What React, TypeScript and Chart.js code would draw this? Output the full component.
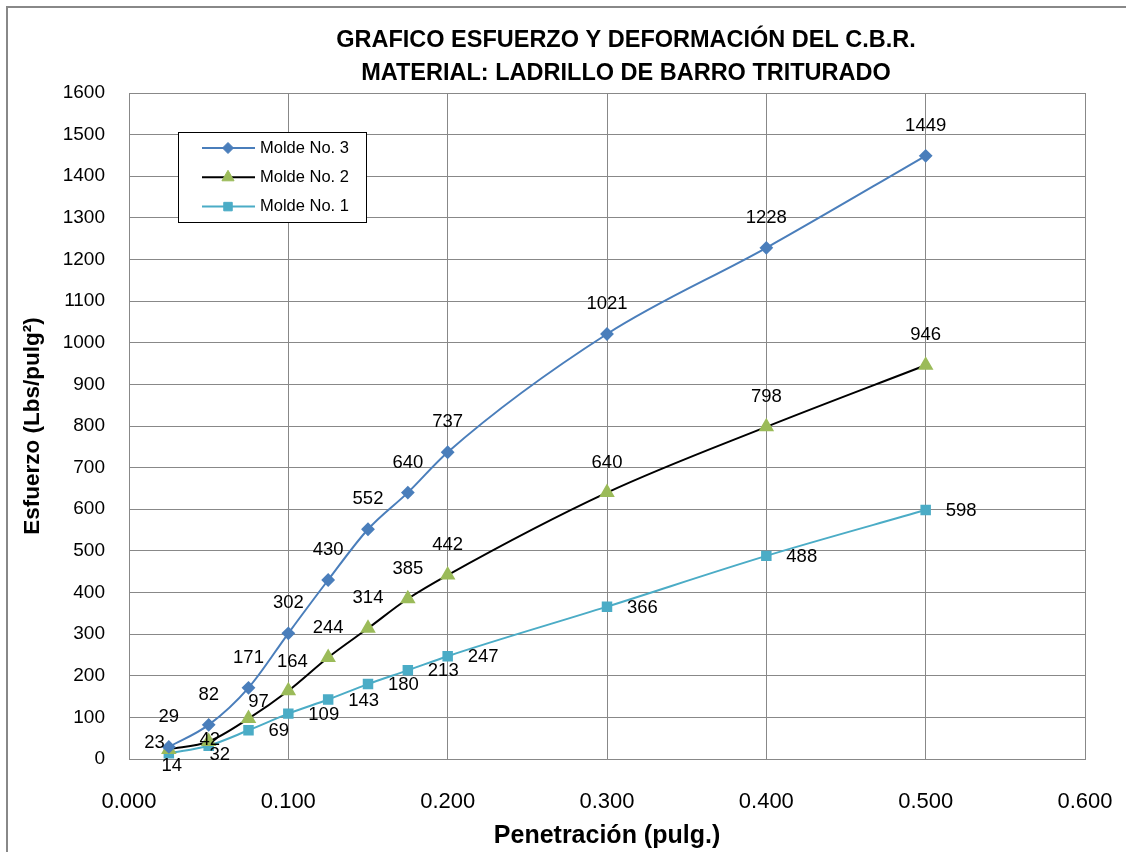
import React, { useEffect, useRef } from 'react';
import { Chart, registerables } from 'chart.js';
import { drawPoint } from 'chart.js/helpers';

Chart.register(...registerables);

// ---- data ----
const penetration = [0.025, 0.05, 0.075, 0.1, 0.125, 0.15, 0.175, 0.2, 0.3, 0.4, 0.5];
const molde3 = [29, 82, 171, 302, 430, 552, 640, 737, 1021, 1228, 1449];
const molde2 = [23, 42, 97, 164, 244, 314, 385, 442, 640, 798, 946];
const molde1 = [14, 32, 69, 109, 143, 180, 213, 247, 366, 488, 598];
const seriesLabels = ['Molde No. 3', 'Molde No. 2', 'Molde No. 1'];
const titleLines = ['GRAFICO ESFUERZO Y DEFORMACIÓN DEL C.B.R.', 'MATERIAL: LADRILLO DE BARRO TRITURADO'];
const xAxisTitle = 'Penetración (pulg.)';
const yAxisTitle = 'Esfuerzo (Lbs/pulg²)';

// label placement names (style, not data)
const place3 = ['above', 'above', 'above', 'above', 'above', 'above', 'above', 'above', 'above', 'above', 'above'];
const place2 = ['left', 'on', 'aboveRight', 'aboveSlightRight', 'above', 'above', 'above', 'above', 'above', 'above', 'above'];
const place1 = ['below', 'belowRight', 'right', 'right', 'right', 'right', 'right', 'right', 'right', 'right', 'right'];

const FONT = '"Liberation Sans", Arial, sans-serif';

const OFFSETS: Record<string, [number, number, CanvasTextAlign]> = {
  above: [0, -30, 'center'],
  aboveSlightRight: [4, -29, 'center'],
  right: [20, 1, 'left'],
  left: [-4, -7, 'right'],
  on: [1, -2, 'center'],
  aboveRight: [10, -17, 'center'],
  below: [3, 13, 'center'],
  belowRight: [11, 9, 'center'],
};

const framePlugin = {
  id: 'frame',
  beforeDraw(chart: any) {
    const ctx = chart.ctx;
    ctx.save();
    ctx.fillStyle = '#ffffff';
    ctx.fillRect(0, 0, chart.width, chart.height);
    ctx.strokeStyle = '#888888';
    ctx.lineWidth = 2;
    ctx.beginPath();
    ctx.moveTo(7, chart.height);
    ctx.lineTo(7, 7);
    ctx.lineTo(chart.width, 7);
    ctx.stroke();
    ctx.restore();
  },
};

const titlePlugin = {
  id: 'customTitle',
  afterDraw(chart: any) {
    const ctx = chart.ctx;
    ctx.save();
    ctx.fillStyle = '#000';
    ctx.font = `bold 23.5px ${FONT}`;
    ctx.textAlign = 'center';
    ctx.textBaseline = 'middle';
    ctx.fillText(titleLines[0], 626, 41);
    ctx.fillText(titleLines[1], 626, 74);
    ctx.restore();
  },
};

const labelPlugin = {
  id: 'pointLabels',
  afterDatasetsDraw(chart: any) {
    const ctx = chart.ctx;
    ctx.save();
    ctx.fillStyle = '#000';
    ctx.font = `18.5px ${FONT}`;
    ctx.textBaseline = 'middle';
    chart.data.datasets.forEach((ds: any, di: number) => {
      const meta = chart.getDatasetMeta(di);
      meta.data.forEach((el: any, i: number) => {
        const [dx, dy, align] = OFFSETS[ds.placements[i]];
        ctx.textAlign = align;
        ctx.fillText(String(ds.data[i].y), el.x + dx, el.y + dy);
      });
    });
    ctx.restore();
  },
};

const legendPlugin = {
  id: 'boxLegend',
  afterDraw(chart: any) {
    const ctx = chart.ctx;
    ctx.save();
    const bx = 178.5, by = 132.5, bw = 188, bh = 90;
    ctx.fillStyle = '#fff';
    ctx.fillRect(bx, by, bw, bh);
    ctx.strokeStyle = '#000';
    ctx.lineWidth = 1;
    ctx.strokeRect(bx, by, bw, bh);
    chart.data.datasets.forEach((ds: any, i: number) => {
      const y = 148 + i * 29.3;
      ctx.strokeStyle = ds.borderColor;
      ctx.lineWidth = ds.borderWidth;
      ctx.beginPath();
      ctx.moveTo(202, y);
      ctx.lineTo(255, y);
      ctx.stroke();
      ctx.fillStyle = ds.pointBackgroundColor;
      ctx.strokeStyle = ds.pointBorderColor;
      ctx.lineWidth = 1;
      drawPoint(ctx, { pointStyle: ds.pointStyle, radius: ds.pointRadius, rotation: 0, borderWidth: 1 } as any, 228, y);
      ctx.fillStyle = '#000';
      ctx.font = `16.5px ${FONT}`;
      ctx.textAlign = 'left';
      ctx.textBaseline = 'middle';
      ctx.fillText(ds.label, 260, y);
    });
    ctx.restore();
  },
};

const toPoints = (ys: number[]) => ys.map((y, i) => ({ x: penetration[i], y }));

export default function App() {
  const ref = useRef<HTMLCanvasElement | null>(null);

  useEffect(() => {
    if (!ref.current) return;
    const chart = new Chart(ref.current, {
      type: 'line',
      data: {
        datasets: [
          {
            label: seriesLabels[0],
            data: toPoints(molde3),
            borderColor: '#4A7EBB',
            backgroundColor: '#4A7EBB',
            pointBackgroundColor: '#4A7EBB',
            pointBorderColor: '#4A7EBB',
            borderWidth: 2,
            pointStyle: 'rectRot',
            pointRadius: 5.5,
            cubicInterpolationMode: 'monotone',
            placements: place3,
          } as any,
          {
            label: seriesLabels[1],
            data: toPoints(molde2),
            borderColor: '#000000',
            backgroundColor: '#9BBB59',
            pointBackgroundColor: '#9BBB59',
            pointBorderColor: '#9BBB59',
            borderWidth: 2,
            pointStyle: 'triangle',
            pointRadius: 7,
            cubicInterpolationMode: 'monotone',
            placements: place2,
          } as any,
          {
            label: seriesLabels[2],
            data: toPoints(molde1),
            borderColor: '#4BACC6',
            backgroundColor: '#4BACC6',
            pointBackgroundColor: '#4BACC6',
            pointBorderColor: '#4BACC6',
            borderWidth: 2,
            pointStyle: 'rect',
            pointRadius: 6,
            cubicInterpolationMode: 'monotone',
            placements: place1,
          } as any,
        ],
      },
      options: {
        animation: false,
        responsive: false,
        devicePixelRatio: 1,
        layout: { padding: { top: 93, right: 41, left: 0, bottom: 0 } },
        plugins: {
          legend: { display: false },
          title: { display: false },
          tooltip: { enabled: false },
        },
        scales: {
          x: {
            type: 'linear',
            min: 0,
            max: 0.6,
            afterFit: (s: any) => { s.height = 93; },
            ticks: {
              stepSize: 0.1,
              callback: (v: any) => Number(v).toFixed(3),
              color: '#000',
              font: { family: FONT, size: 22 },
              padding: 8,
            },
            grid: { color: '#888', lineWidth: 1, drawTicks: true, tickLength: 22, tickColor: 'rgba(0,0,0,0)' },
            border: { color: '#888', width: 1 },
            title: {
              display: true,
              text: xAxisTitle,
              color: '#000',
              font: { family: FONT, size: 25, weight: 'bold' },
              padding: { top: 0, bottom: 1 },
            },
          },
          y: {
            type: 'linear',
            min: 0,
            max: 1600,
            afterFit: (s: any) => { s.width = 129; },
            ticks: {
              stepSize: 100,
              callback: (v: any) => String(v),
              color: '#000',
              font: { family: FONT, size: 19 },
              padding: 24,
            },
            grid: { color: '#888', lineWidth: 1, drawTicks: false },
            border: { color: '#888', width: 1 },
            title: {
              display: true,
              text: yAxisTitle,
              color: '#000',
              font: { family: FONT, size: 22.5, weight: 'bold' },
              padding: { top: 19.5, bottom: 0 },
            },
          },
        },
      } as any,
      plugins: [framePlugin, labelPlugin, titlePlugin, legendPlugin],
    });
    return () => chart.destroy();
  }, []);

  return (
    <div style={{ position: 'fixed', left: 0, top: 0, width: 1126, height: 852, background: '#fff' }}>
      <canvas ref={ref} width={1126} height={852} style={{ display: 'block' }} />
    </div>
  );
}
